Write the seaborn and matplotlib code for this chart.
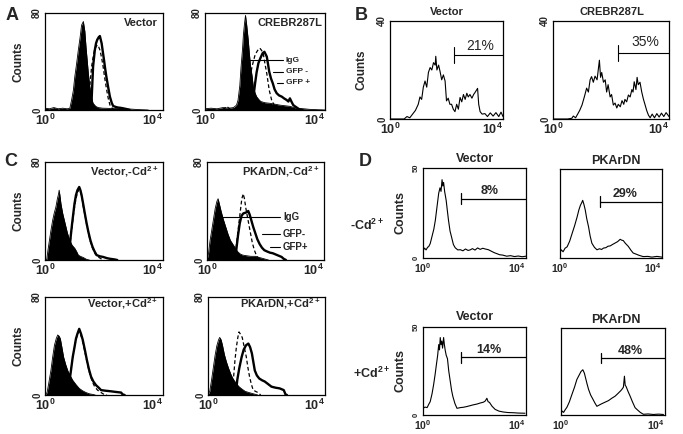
import numpy as np
import matplotlib
matplotlib.use("Agg")
import matplotlib.pyplot as plt
import seaborn as sns

# ---- data (x = log10 fluorescence, y = counts) ----

# A: Vector
a1_igg_x = [0.0, 0.15, 0.3, 0.45, 0.6, 0.75, 0.84, 0.9, 0.96, 1.01, 1.07, 1.13, 1.19, 1.24, 1.3, 1.35, 1.39, 1.43,
            1.47, 1.52, 1.57, 1.63, 1.72, 1.8, 1.95, 2.08, 2.3, 2.5, 2.76, 3.0, 3.21, 3.5]
a1_igg_y = [1.5, 1, 2, 1, 1.5, 1, 1.4, 8, 16, 27.5, 38, 49.6, 60, 70, 73, 65, 52, 41,
            30, 19, 11, 5.5, 3, 2, 1.5, 1.4, 1.2, 1.4, 1, 0.6, 0.3, 0]
a1_neg_x = [1.45, 1.5, 1.54, 1.58, 1.64, 1.69, 1.73, 1.77, 1.82, 1.86, 1.92, 1.97, 2.02, 2.08, 2.14, 2.2, 2.31, 2.4]
a1_neg_y = [0, 13.8, 25, 35.8, 45, 51, 52, 53.7, 52, 49.6, 43, 35.8, 27, 18, 10, 4.2, 0.5, 0]
a1_pos_x = [1.4, 1.54, 1.58, 1.63, 1.69, 1.73, 1.77, 1.82, 1.86, 1.89, 1.92, 1.96, 2.0, 2.04, 2.08, 2.14, 2.2,
            2.26, 2.31, 2.4, 2.48, 2.56, 2.65, 2.76, 2.87]
a1_pos_y = [0, 0.5, 8.3, 35.8, 49.6, 55, 57.9, 60, 61, 58, 55, 48, 41.3, 34, 27.5, 19, 11,
            6, 3.3, 2.5, 2, 1.8, 1.4, 0.8, 0]

# A: CREBR287L
a2_igg_x = [0.0, 0.2, 0.4, 0.6, 0.8, 0.95, 1.05, 1.1, 1.16, 1.2, 1.25, 1.28, 1.32, 1.35, 1.39, 1.44, 1.48, 1.52,
            1.57, 1.61, 1.67, 1.72, 1.8, 1.86, 2.0, 2.17, 2.33, 2.5, 2.67, 2.83, 2.95, 3.06, 3.3, 3.5, 4.0]
a2_igg_y = [1, 1.5, 1, 2, 1.5, 2, 4, 8, 20, 35, 50, 62, 72, 78, 70, 58, 46, 36,
            28, 19, 14, 11, 8.5, 7, 6, 5.5, 4.8, 4, 3.5, 3, 2.2, 1.4, 1, 0.5, 0]
a2_neg_x = [0.6, 0.72, 0.85, 1.0, 1.2, 1.39, 1.45, 1.5, 1.58, 1.67, 1.75, 1.83, 1.89, 1.94, 2.0, 2.06, 2.14,
            2.22, 2.33, 2.45, 2.6]
a2_neg_y = [0, 3, 0.5, 0.5, 1, 3, 12, 27.5, 37, 45.5, 49, 51, 49, 46.8, 38, 30, 16.5, 8.3, 2.8, 1, 0]
a2_pos_x = [1.5, 1.6, 1.67, 1.72, 1.78, 1.85, 1.92, 1.98, 2.02, 2.06, 2.1, 2.14, 2.2, 2.26, 2.32, 2.39, 2.47,
            2.56, 2.64, 2.72, 2.78, 2.83, 2.88, 2.94, 3.0, 3.06, 3.15, 3.25]
a2_pos_y = [0, 8, 22, 31, 38.6, 43, 46.8, 48, 46, 44, 38, 31.7, 26, 22, 17, 13.8, 12,
            11, 9.5, 8.3, 7, 9.6, 7, 4.1, 3, 2, 0.5, 0]

# B: single histograms with gates
b1_x = [0.0, 0.3, 0.5, 0.6, 0.7, 0.8, 0.9, 1.0, 1.06, 1.12, 1.18, 1.24, 1.3, 1.36, 1.42, 1.48, 1.54, 1.6, 1.62,
        1.66, 1.72, 1.77, 1.83, 1.89, 1.95, 2.0, 2.06, 2.12, 2.18, 2.24, 2.3, 2.36, 2.42, 2.48, 2.54, 2.6, 2.66,
        2.72, 2.77, 2.83, 2.9, 2.96, 3.02, 3.1, 3.14, 3.19, 3.26, 3.36, 3.45, 3.55, 3.65, 3.75, 3.85, 3.93, 4.0]
b1_y = [0, 0, 0, 1, 0.5, 2, 3.5, 6, 9, 8, 13, 15.5, 13, 19, 21, 20, 23, 22, 25.6,
        20, 22, 19.5, 16, 18, 15.5, 7.4, 8.5, 6, 6, 4, 3, 6, 4, 8.8, 7, 10, 8,
        10.5, 9, 10, 8.5, 10, 11, 12.5, 6, 3, 2, 2.2, 1, 2.5, 1.2, 2.6, 1, 2.8, 1]
b2_x = [0.0, 0.5, 0.65, 0.7, 0.78, 0.85, 0.92, 1.0, 1.08, 1.16, 1.22, 1.28, 1.33, 1.39, 1.45, 1.52, 1.56, 1.6,
        1.64, 1.68, 1.74, 1.8, 1.85, 1.9, 1.97, 2.02, 2.08, 2.14, 2.2, 2.25, 2.32, 2.38, 2.44, 2.48, 2.54, 2.6,
        2.66, 2.72, 2.76, 2.8, 2.86, 2.9, 2.94, 3.0, 3.06, 3.12, 3.17, 3.23, 3.29, 3.35, 3.42, 3.5, 3.58, 3.66,
        3.74, 3.82, 3.9, 4.0]
b2_y = [0, 0, 0.3, 1.2, 0.5, 2, 3.5, 5.7, 9, 12.6, 11, 16, 17.3, 15, 17.5, 16, 20, 24,
        17, 19, 15, 16, 11, 14, 9, 10, 5.7, 6.5, 4.5, 6, 5, 7.5, 6, 8, 7, 9.8,
        9, 12, 11, 15.2, 12, 17, 14, 15, 11, 8, 6, 3.5, 1.6, 0.5, 2, 0.5, 2.2, 0.8,
        2.4, 1, 2.6, 1]
b_gate_x = [2.28, 2.25]
b_gate_y = [26, 27]
b_pct = ["21%", "35%"]
b_pct_x = [3.19, 3.17]
b_pct_y = [30, 31.5]

# C: -Cd2+ row
c1_igg_x = [0.0, 0.06, 0.1, 0.15, 0.2, 0.26, 0.31, 0.37, 0.42, 0.46, 0.48, 0.51, 0.54, 0.6, 0.68, 0.76, 0.84,
            0.92, 1.01, 1.07, 1.13, 1.2, 1.3, 1.41, 1.5]
c1_igg_y = [0, 0.5, 8, 16, 24, 32.5, 38, 43.4, 50, 54, 57, 52, 46, 38, 30, 22, 16,
            12, 9.5, 7, 4, 3, 2, 0.5, 0]
c1_neg_x = [0.8, 0.86, 0.92, 0.97, 1.02, 1.07, 1.12, 1.16, 1.21, 1.26, 1.3, 1.36, 1.42, 1.48, 1.55, 1.62, 1.7,
            1.8, 1.9, 2.0]
c1_neg_y = [0, 16, 28, 38, 46, 52, 56, 58, 55, 50, 43, 36, 28, 21, 14, 9, 5, 2.5, 1, 0]
c1_pos_x = [0.8, 0.87, 0.92, 0.96, 1.0, 1.05, 1.1, 1.16, 1.2, 1.24, 1.3, 1.35, 1.41, 1.47, 1.54, 1.61, 1.68,
            1.75, 1.86, 1.97, 2.1, 2.2, 2.35, 2.45]
c1_pos_y = [0, 19, 30, 38, 46, 53, 57, 59.6, 57, 53, 45, 38, 30, 23, 16, 10.8, 7,
            4, 3, 2.5, 1.5, 1, 0.5, 0]

c2_igg_x = [0.0, 0.05, 0.1, 0.16, 0.22, 0.28, 0.34, 0.38, 0.42, 0.48, 0.56, 0.64, 0.72, 0.8, 0.88, 0.96, 1.04,
            1.13, 1.22, 1.35, 1.5, 1.65, 1.8, 1.95, 2.1]
c2_igg_y = [0, 5, 15, 24, 33, 42, 48, 50, 46, 40, 33, 27, 21, 16, 13, 10, 7,
            5, 4, 3.5, 3, 3, 2, 1, 0]
c2_neg_x = [0.9, 0.96, 1.02, 1.08, 1.14, 1.19, 1.24, 1.28, 1.33, 1.4, 1.47, 1.55, 1.62, 1.7, 1.78, 1.85]
c2_neg_y = [0, 4, 15, 28, 40, 50, 54, 50, 42, 33, 24, 14, 8, 3, 1, 0]
c2_pos_x = [0.95, 1.0, 1.06, 1.12, 1.18, 1.24, 1.3, 1.36, 1.41, 1.46, 1.52, 1.58, 1.65, 1.72, 1.8, 1.88, 1.96,
            2.05, 2.15, 2.25, 2.35, 2.45, 2.55, 2.62, 2.7]
c2_pos_y = [0, 8, 20, 30, 36, 38, 38.5, 39, 40, 37, 32, 27, 22, 17, 13, 10, 8,
            7, 6, 5.5, 4.5, 3.5, 2.5, 1, 0]

# C: +Cd2+ row
c3_igg_x = [0.0, 0.07, 0.13, 0.2, 0.26, 0.32, 0.38, 0.43, 0.48, 0.52, 0.58, 0.63, 0.7, 0.77, 0.85, 0.94, 1.05,
            1.16, 1.27, 1.39, 1.5, 1.61, 1.7]
c3_igg_y = [0, 2, 10, 20, 31, 40.6, 46, 49, 48, 46, 38, 31, 25, 20, 16, 12, 8.5,
            5.4, 3.5, 2, 1, 0.5, 0]
c3_neg_x = [0.75, 0.83, 0.9, 0.96, 1.02, 1.08, 1.14, 1.18, 1.24, 1.3, 1.38, 1.45, 1.52, 1.6, 1.68, 1.78, 1.9,
            2.0, 2.1]
c3_neg_y = [0, 12, 24, 34, 42, 48, 52, 51, 47, 41, 32, 24, 17, 11, 7, 4, 2, 0.5, 0]
c3_pos_x = [0.75, 0.82, 0.88, 0.94, 1.0, 1.05, 1.1, 1.16, 1.22, 1.28, 1.35, 1.42, 1.49, 1.56, 1.64, 1.73, 1.82,
            1.9, 2.05, 2.24, 2.4, 2.58, 2.63, 2.7]
c3_pos_y = [0, 9.5, 20, 31, 39, 46, 50, 54, 50, 45, 37, 28.5, 21, 15, 11, 8, 6,
            4, 3.5, 3, 2.5, 2, 0.5, 0]

c4_igg_x = [0.0, 0.06, 0.12, 0.18, 0.24, 0.3, 0.36, 0.4, 0.45, 0.5, 0.56, 0.63, 0.7, 0.78, 0.86, 0.95, 1.05,
            1.15, 1.27, 1.4, 1.55, 1.7]
c4_igg_y = [0, 3, 12, 22, 32, 40, 45, 47, 45, 40, 33, 27, 22, 17, 13, 10, 7,
            5, 3, 2, 1, 0]
c4_neg_x = [0.8, 0.86, 0.92, 0.97, 1.02, 1.06, 1.1, 1.17, 1.24, 1.31, 1.36, 1.42, 1.48, 1.54, 1.62, 1.71, 1.8]
c4_neg_y = [0, 10, 28, 39, 47, 51.5, 50, 47, 39, 31, 23, 15, 9, 4.3, 3, 2, 0]
c4_pos_x = [0.95, 1.0, 1.07, 1.15, 1.22, 1.3, 1.38, 1.44, 1.5, 1.55, 1.6, 1.67, 1.75, 1.85, 1.94, 2.05, 2.17,
            2.3, 2.45, 2.59, 2.65, 2.7]
c4_pos_y = [0, 12.2, 22, 31, 37, 40.6, 42, 39, 34, 27, 20, 16, 13.5, 12, 11, 9, 6.8,
            6, 5.4, 4, 0.5, 0]

# D: four single histograms with gates
d1_x = [0.0, 0.06, 0.12, 0.18, 0.22, 0.28, 0.35, 0.42, 0.48, 0.54, 0.61, 0.66, 0.7, 0.74, 0.77, 0.8, 0.84, 0.9,
        0.94, 0.99, 1.05, 1.12, 1.18, 1.25, 1.35, 1.45, 1.55, 1.65, 1.75, 1.83, 1.92, 2.02, 2.12, 2.22, 2.32,
        2.42, 2.54, 2.65, 2.76, 2.87, 2.98, 3.1, 3.25, 3.4, 3.55, 3.7, 3.85, 4.0]
d1_y = [4, 5.5, 4.5, 6, 6.3, 8, 12, 16, 21, 28, 36, 39, 37, 43.5, 40, 42, 37, 32,
        27, 21, 15, 11, 7.5, 5.7, 4.5, 4.6, 4, 5, 4.2, 4.5, 5.2, 4.4, 5.6, 4.8, 5.4,
        5.0, 4.6, 3.8, 3.0, 2.4, 1.8, 1.6, 1.0, 1.3, 0.8, 1.1, 0.7, 1]
d2_x = [0.0, 0.05, 0.12, 0.2, 0.28, 0.38, 0.48, 0.57, 0.67, 0.74, 0.8, 0.85, 0.89, 0.94, 0.99, 1.05, 1.12, 1.18,
        1.25, 1.35, 1.45, 1.55, 1.63, 1.71, 1.8, 1.88, 1.97, 2.06, 2.16, 2.26, 2.36, 2.42, 2.48, 2.56, 2.68,
        2.78, 2.87, 2.98, 3.1, 3.26, 3.45, 3.6, 3.8, 4.0]
d2_y = [3, 4.6, 3.5, 5.5, 6.3, 9.5, 14, 18, 23, 27, 29.6, 31, 32.4, 30, 27, 22, 17.5, 12.5,
        8.3, 6, 4.6, 5.2, 4.8, 5.6, 5.8, 6.6, 6.8, 7.6, 8.4, 9.2, 10.5, 10, 9.8, 8.3, 6.5,
        4.4, 2.8, 2.2, 1.5, 0.8, 0.9, 0.5, 0.9, 0.5]
d3_x = [0.0, 0.08, 0.16, 0.22, 0.28, 0.35, 0.41, 0.47, 0.52, 0.57, 0.61, 0.64, 0.67, 0.7, 0.73, 0.76, 0.8, 0.83,
        0.86, 0.9, 0.95, 1.0, 1.06, 1.11, 1.16, 1.24, 1.32, 1.45, 1.57, 1.7, 1.83, 1.96, 2.09, 2.22, 2.35, 2.42,
        2.48, 2.53, 2.58, 2.68, 2.8, 2.95, 3.12, 3.3, 3.5, 3.7, 3.96]
d3_y = [3.8, 4.5, 4.2, 6, 7.6, 12, 17, 23, 28.6, 34, 40, 37, 44, 40, 42, 38, 44, 40,
        37, 34, 32, 25, 19, 14, 10.5, 6.5, 3.8, 4.2, 4.4, 4.8, 5.3, 5.8, 6.2, 6.8, 7.3, 8,
        9.5, 7.5, 7.2, 5.0, 3.2, 2.2, 1.7, 1.4, 1.3, 1.1, 1]
d4_x = [0.0, 0.04, 0.1, 0.16, 0.23, 0.32, 0.42, 0.52, 0.61, 0.7, 0.77, 0.84, 0.9, 0.95, 1.0, 1.06, 1.14, 1.23,
        1.3, 1.38, 1.48, 1.57, 1.7, 1.83, 1.95, 2.08, 2.2, 2.3, 2.34, 2.4, 2.44, 2.47, 2.5, 2.58, 2.66, 2.75,
        2.85, 2.95, 3.05, 3.17, 3.35, 3.55, 3.75, 3.94]
d4_y = [0.5, 2.3, 1.5, 3, 4.5, 7.5, 11.8, 16, 20.4, 23, 25, 26, 24, 21, 18, 14.7, 11.5, 9,
        7, 5, 5.8, 6.5, 7.4, 8.3, 9.6, 10.8, 12.5, 14, 14.7, 16, 22.3, 17, 16.5, 13.5, 10.8, 7.5,
        4.2, 2.8, 1.5, 0.4, 0.6, 0.3, 0.5, 0.3]
d_gate_x = [1.48, 1.55, 1.47, 1.53]
d_gate_y = [33, 31.7, 32.8, 32.7]
d_pct = ["8%", "29%", "14%", "48%"]
d_pct_x = [2.6, 2.55, 2.54, 2.66]
d_pct_y = [37, 36, 37, 37]
d_titles = ["Vector", "PKArDN", "Vector", "PKArDN"]

# ---- figure ----
sns.set_style("white")
plt.rcParams["font.family"] = ["Liberation Sans", "DejaVu Sans"]
plt.rcParams["mathtext.fontset"] = "custom"
plt.rcParams["mathtext.rm"] = "Liberation Sans"
plt.rcParams["mathtext.bf"] = "Liberation Sans:bold"

W, H = 683, 434
fig = plt.figure(figsize=(W / 100, H / 100), dpi=100)


def add_ax(x0, y0, x1, y1):
    return fig.add_axes([x0 / W, 1 - y1 / H, (x1 - x0) / W, (y1 - y0) / H])


minor_x = [d + np.log10(k) for d in range(4) for k in range(2, 10)]


def frame(ax, ymax, ystep, ylab=True, fs=9, counts=None, counts_x=-0.17, cfs=8.5):
    ax.set_xlim(0, 4)
    ax.set_ylim(0, ymax)
    for s in ax.spines.values():
        s.set_color("black")
        s.set_linewidth(0.9)
        s.set_visible(True)
    ax.set_xticks([0, 4])
    labs = ax.set_xticklabels([r"$\mathbf{10^{0}}$", r"$\mathbf{10^{4}}$"], fontsize=fs)
    labs[1].set_horizontalalignment("right")
    ax.set_xticks(minor_x, minor=True)
    ax.set_yticks([0, ymax])
    if ylab:
        ax.set_yticklabels(["0", str(ymax)], rotation=90, va="center", fontsize=fs - 2, fontweight="bold")
    else:
        ax.set_yticklabels([])
    ax.set_yticks(np.arange(0, ymax, ystep), minor=True)
    ax.tick_params(which="major", direction="in", length=3, width=0.8, pad=2)
    ax.tick_params(which="minor", direction="in", length=1.8, width=0.6)
    ax.set_xlabel("")
    ax.set_ylabel("")
    if counts:
        ax.set_ylabel("Counts", fontsize=cfs, fontweight="bold")
        ax.yaxis.set_label_coords(counts_x, 0.5)


def overlay(ax, ix, iy, nx, ny, px, py):
    sns.lineplot(x=ix, y=iy, ax=ax, color="black", lw=0.6, estimator=None)
    ax.fill_between(ix, iy, color="black", lw=0)
    sns.lineplot(x=nx, y=ny, ax=ax, color="black", lw=0.9, linestyle=(0, (3, 2)), estimator=None)
    sns.lineplot(x=px, y=py, ax=ax, color="black", lw=1.7, estimator=None)


def leaders(ax, starts, ys, x_end, names, fs):
    for xs, y, name in zip(starts, ys, names):
        ax.plot([xs, x_end], [y, y], color="black", lw=0.8)
        ax.text(x_end + 0.1, y, name, fontsize=fs, fontweight="bold", va="center")


# A
ax = add_ax(45, 13, 163, 110)
overlay(ax, a1_igg_x, a1_igg_y, a1_neg_x, a1_neg_y, a1_pos_x, a1_pos_y)
frame(ax, 80, 10, counts=True)
ax.text(0.96, 0.9, "Vector", transform=ax.transAxes, ha="right", va="center", fontsize=8, fontweight="bold")

ax = add_ax(205, 13, 325, 110)
overlay(ax, a2_igg_x, a2_igg_y, a2_neg_x, a2_neg_y, a2_pos_x, a2_pos_y)
frame(ax, 80, 10)
ax.text(0.975, 0.9, "CREBR287L", transform=ax.transAxes, ha="right", va="center", fontsize=8, fontweight="bold")
leaders(ax, [1.5, 2.27, 2.4], [41, 31.6, 22.5], 2.6, ["IgG", "GFP -", "GFP +"], 6)

# B
for i, (bx, by, x0, x1, title, tx) in enumerate([(b1_x, b1_y, 390, 503, "Vector", 447),
                                                  (b2_x, b2_y, 553, 669, "CREBR287L", 612)]):
    ax = add_ax(x0, 21, x1, 119)
    sns.lineplot(x=bx, y=by, ax=ax, color="black", lw=0.8, estimator=None)
    gx, gy = b_gate_x[i], b_gate_y[i]
    ax.plot([gx, 4], [gy, gy], color="black", lw=0.8)
    ax.plot([gx, gx], [gy - 3.2, gy + 3.2], color="black", lw=0.8)
    ax.text(b_pct_x[i], b_pct_y[i], b_pct[i], ha="center", va="center", fontsize=10)
    frame(ax, 40, 5, counts=(i == 0), counts_x=-0.2)
    fig.text(tx / W, 1 - 12 / H, title, ha="center", va="center", fontsize=8, fontweight="bold")

# C
c_boxes = [(45, 162, 163, 260), (207, 162, 324, 260), (45, 297, 163, 395), (208, 297, 325, 395)]
c_data = [(c1_igg_x, c1_igg_y, c1_neg_x, c1_neg_y, c1_pos_x, c1_pos_y),
          (c2_igg_x, c2_igg_y, c2_neg_x, c2_neg_y, c2_pos_x, c2_pos_y),
          (c3_igg_x, c3_igg_y, c3_neg_x, c3_neg_y, c3_pos_x, c3_pos_y),
          (c4_igg_x, c4_igg_y, c4_neg_x, c4_neg_y, c4_pos_x, c4_pos_y)]
c_titles = [r"Vector,-Cd$^{\mathbf{2+}}$", r"PKArDN,-Cd$^{\mathbf{2+}}$",
            r"Vector,+Cd$^{\mathbf{2+}}$", r"PKArDN,+Cd$^{\mathbf{2+}}$"]
c_ty = [0.9, 0.9, 0.93, 0.93]
for i in range(4):
    ax = add_ax(*c_boxes[i])
    overlay(ax, *c_data[i])
    frame(ax, 80, 10, counts=(i % 2 == 0))
    ax.text(0.96, c_ty[i], c_titles[i], transform=ax.transAxes, ha="right", va="center",
            fontsize=8, fontweight="bold")
    if i == 1:
        leaders(ax, [0.33, 1.88, 2.15], [34.8, 21.2, 10.4], 2.5, ["IgG", "GFP-", "GFP+"], 7)

# D
d_boxes = [(423, 168, 526, 258), (560, 169, 662, 258), (423, 327, 526, 415), (561, 328, 665, 415)]
d_series = [(d1_x, d1_y), (d2_x, d2_y), (d3_x, d3_y), (d4_x, d4_y)]
d_title_pos = [(475, 159), (616, 161), (475, 317), (616, 320)]
for i in range(4):
    ax = add_ax(*d_boxes[i])
    sns.lineplot(x=d_series[i][0], y=d_series[i][1], ax=ax, color="black", lw=0.8, estimator=None)
    gx, gy = d_gate_x[i], d_gate_y[i]
    ax.plot([gx, 4], [gy, gy], color="black", lw=0.9)
    ax.plot([gx, gx], [gy - 3, gy + 3], color="black", lw=0.9)
    ax.text(d_pct_x[i], d_pct_y[i], d_pct[i], ha="center", va="center", fontsize=9, fontweight="bold")
    frame(ax, 50, 5, ylab=(i % 2 == 0), fs=7.5, counts=(i % 2 == 0), counts_x=-0.165, cfs=9)
    tx, ty = d_title_pos[i]
    fig.text(tx / W, 1 - ty / H, d_titles[i], ha="center", va="center", fontsize=9, fontweight="bold")

fig.text(367 / W, 1 - 225 / H, r"-Cd$^{\mathbf{2+}}$", ha="center", va="center", fontsize=9, fontweight="bold")
fig.text(372 / W, 1 - 373 / H, r"+Cd$^{\mathbf{2+}}$", ha="center", va="center", fontsize=9, fontweight="bold")

# panel letters
for letter, (px, py) in zip("ABCD", [(12, 16), (361, 15), (11, 161), (365, 161)]):
    fig.text(px / W, 1 - py / H, letter, ha="center", va="center", fontsize=13, fontweight="bold")

fig.savefig("out.png", dpi=100)
